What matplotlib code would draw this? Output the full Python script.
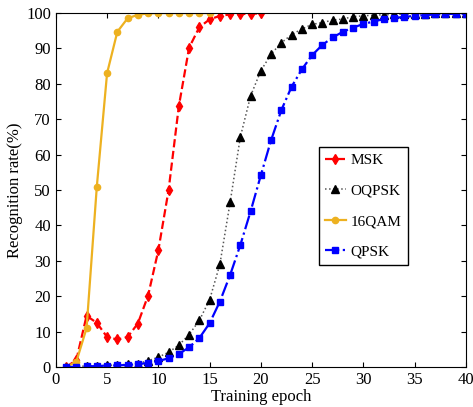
import numpy as np
import matplotlib.pyplot as plt

plt.rcParams['font.family'] = ['Liberation Serif', 'DejaVu Serif']

epoch_msk = list(range(1, 21))
msk = [0, 2, 14.5, 12.5, 8.5, 7.8, 8.5, 12.3, 20.2, 33, 50, 73.7, 90.2, 96,
       98.2, 99.2, 99.6, 99.7, 99.8, 99.9]

epoch_qam = list(range(1, 16))
qam16 = [0, 1.5, 11, 51, 83, 94.7, 98.5, 99.5, 99.9, 100, 100, 100, 100, 100, 100]

epoch_long = list(range(1, 41))
oqpsk = [0, 0.2, 0.3, 0.4, 0.5, 0.6, 0.8, 1.0, 1.8, 2.8, 4.2, 6.2, 9.2, 13.2,
         19, 29, 46.5, 65, 76.6, 83.7, 88.4, 91.6, 93.9, 95.5, 96.8, 97.3,
         98, 98.3, 99, 99.2, 99.4, 99.5, 99.6, 99.7, 99.8, 99.8, 99.9, 99.9,
         99.9, 100]
qpsk = [0, 0.1, 0.2, 0.3, 0.4, 0.5, 0.6, 0.8, 1.2, 1.7, 2.5, 3.7, 5.6, 8.2,
        12.4, 18.5, 26, 34.5, 44, 54.2, 64.1, 72.6, 79.2, 84.1, 88.1, 91,
        93.1, 94.7, 95.9, 96.9, 97.6, 98.3, 98.6, 98.9, 99.2, 99.4, 99.6,
        99.7, 99.8, 99.8]

fig = plt.figure(figsize=(4.73, 4.07), dpi=100)
ax = fig.add_axes([0.118, 0.098, 0.867, 0.870])

ax.plot(epoch_msk, msk, '--', color='red', marker='d', markersize=5.5,
        linewidth=1.6, label='MSK')
ax.plot(epoch_long, oqpsk, ':', color='#555555', marker='^', markersize=5.5,
        markerfacecolor='black', markeredgecolor='black', linewidth=1.1,
        label='OQPSK')
ax.plot(epoch_qam, qam16, '-', color='#EDB120', marker='o', markersize=4.5,
        linewidth=1.6, label='16QAM')
ax.plot(epoch_long, qpsk, '-.', color='blue', marker='s', markersize=4.5,
        linewidth=1.6, label='QPSK')

ax.set_xlim(0, 40)
ax.set_ylim(0, 100)
ax.set_xticks(np.arange(0, 41, 5))
ax.set_yticks(np.arange(0, 101, 10))
ax.tick_params(direction='in', top=True, right=True, labelsize=12)
ax.set_xlabel('Training epoch', fontsize=12, labelpad=1)
ax.set_ylabel('Recognition rate(%)', fontsize=12, labelpad=2)

leg = ax.legend(loc='upper left', bbox_to_anchor=(0.641, 0.621),
                fontsize=11, fancybox=False, edgecolor='black',
                framealpha=1, handlelength=1.4, handletextpad=0.3,
                labelspacing=1.1, borderpad=0.4, borderaxespad=0)
leg.get_frame().set_linewidth(1.0)

fig.savefig('out.png', dpi=100)
